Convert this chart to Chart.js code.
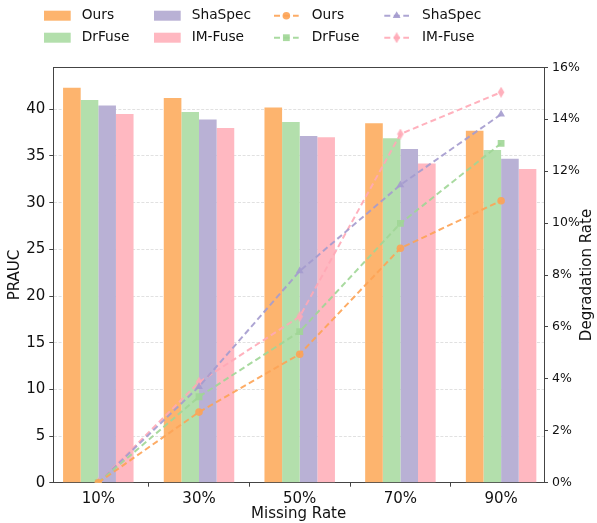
<!DOCTYPE html>
<html><head><meta charset="utf-8">
<script src="https://cdn.jsdelivr.net/npm/chart.js@4/dist/chart.umd.min.js"></script>
<style>html,body{margin:0;padding:0;background:#fff}canvas{display:block}</style>
</head><body>
<canvas id="c" width="597" height="523"></canvas>
<script>
// ---- data ----
const categories = ['10%', '30%', '50%', '70%', '90%'];
const methods = ['Ours', 'DrFuse', 'ShaSpec', 'IM-Fuse'];
const praucOurs    = [42.3, 41.2, 40.2, 38.5, 37.7];
const praucDrFuse  = [41.0, 39.7, 38.65, 36.9, 35.65];
const praucShaSpec = [40.4, 38.9, 37.15, 35.75, 34.7];
const praucIMFuse  = [39.5, 38.0, 37.0, 34.2, 33.6];
const degOurs      = [0, 2.72, 4.95, 9.03, 10.86];
const degDrFuse    = [0, 3.31, 5.82, 9.99, 13.07];
const degShaSpec   = [0, 3.7, 8.15, 11.47, 14.19];
const degIMFuse    = [0, 3.87, 6.4, 13.43, 15.04];
const yTicksLeft  = [0, 5, 10, 15, 20, 25, 30, 35, 40];
const yTicksRight = [0, 2, 4, 6, 8, 10, 12, 14, 16];
const xTitle = 'Missing Rate';
const yTitle = 'PRAUC';
const y1Title = 'Degradation Rate';

// ---- styles ----
const barColors  = ['#FDB46E', '#B3DFAC', '#B9B1D5', '#FFB8C1'];
const lineColors = ['rgba(253,163,85,0.9)', 'rgba(160,214,150,0.9)', 'rgba(164,155,206,0.9)', 'rgba(255,168,182,0.9)'];
const FONT = '"DejaVu Sans", "Liberation Sans", sans-serif';
const TXT = '#111';
const SPINE = '#444';

function thinDiamond(color) {
  const c = document.createElement('canvas');
  c.width = 8; c.height = 11;
  const g = c.getContext('2d');
  g.fillStyle = color;
  g.beginPath(); g.moveTo(4, 0); g.lineTo(7.3, 5.5); g.lineTo(4, 11); g.lineTo(0.7, 5.5); g.closePath(); g.fill();
  return c;
}
const markerStyles = ['circle', 'rect', 'triangle', thinDiamond(lineColors[3])];
const markerRadius = [3.8, 4.8, 4.5, 4];

const praucSeries = [praucOurs, praucDrFuse, praucShaSpec, praucIMFuse];
const degSeries = [degOurs, degDrFuse, degShaSpec, degIMFuse];
const toXY = arr => arr.map((v, i) => ({x: i, y: v}));

const datasets = [];
methods.forEach((m, i) => {
  datasets.push({
    type: 'bar', label: m, data: toXY(praucSeries[i]), yAxisID: 'y', xAxisID: 'x',
    backgroundColor: barColors[i], borderWidth: 0,
    categoryPercentage: 0.7, barPercentage: 1.0, order: 2
  });
});
methods.forEach((m, i) => {
  datasets.push({
    type: 'line', label: m, data: toXY(degSeries[i]), yAxisID: 'y1', xAxisID: 'x',
    borderColor: lineColors[i], backgroundColor: lineColors[i], borderWidth: 2, borderDash: [6, 3.5],
    pointStyle: markerStyles[i], pointRadius: markerRadius[i], pointBorderWidth: 0,
    pointBackgroundColor: lineColors[i], fill: false, tension: 0, order: 1
  });
});

function drawMarker(ctx, style, x, y, color, r) {
  ctx.fillStyle = color;
  if (style === 'circle') { ctx.beginPath(); ctx.arc(x, y, r, 0, Math.PI * 2); ctx.fill(); }
  else if (style === 'rect') { const s = r * Math.SQRT1_2; ctx.fillRect(x - s, y - s, 2 * s, 2 * s); }
  else if (style === 'triangle') {
    ctx.beginPath();
    ctx.moveTo(x, y - r); ctx.lineTo(x + r * 0.866, y + r * 0.5); ctx.lineTo(x - r * 0.866, y + r * 0.5);
    ctx.closePath(); ctx.fill();
  } else if (style && style.width) { ctx.drawImage(style, x - style.width / 2, y - style.height / 2); }
}

const legendPlugin = {
  id: 'customLegend',
  afterDraw(chart) {
    const ctx = chart.ctx;
    ctx.save();
    ctx.font = '13.75px ' + FONT;
    ctx.textBaseline = 'middle';
    ctx.textAlign = 'left';
    const rows = [15.7, 37.7];
    const cols = [44, 154, 274, 384.3];
    const hl = 26.7;
    chart.data.datasets.forEach((ds, k) => {
      const x = cols[Math.floor(k / 2)], y = rows[k % 2];
      if (ds.type === 'line') {
        ctx.save();
        ctx.strokeStyle = ds.borderColor; ctx.lineWidth = 2; ctx.setLineDash([6, 3.5]);
        ctx.beginPath(); ctx.moveTo(x, y); ctx.lineTo(x + hl - 2, y); ctx.stroke();
        ctx.restore();
        drawMarker(ctx, ds.pointStyle, x + hl / 2 - 1, y, ds.borderColor, ds.pointRadius);
      } else {
        ctx.fillStyle = ds.backgroundColor;
        ctx.fillRect(x, y - 5, hl, 10);
      }
      ctx.fillStyle = TXT;
      ctx.fillText(ds.label, x + 37.7, y);
    });
    const a = chart.chartArea;
    // top spine
    ctx.strokeStyle = SPINE; ctx.lineWidth = 1;
    ctx.beginPath(); ctx.moveTo(a.left, Math.round(a.top) + 0.5); ctx.lineTo(a.right, Math.round(a.top) + 0.5); ctx.stroke();
    // right axis title, reading bottom-to-top
    ctx.font = '15px ' + FONT;
    ctx.fillStyle = TXT;
    ctx.textAlign = 'center';
    ctx.translate(587.5, (a.top + a.bottom) / 2);
    ctx.rotate(-Math.PI / 2);
    ctx.fillText(y1Title, 0, 0);
    ctx.restore();
  }
};

Chart.defaults.font.family = FONT;
Chart.defaults.color = TXT;

new Chart(document.getElementById('c'), {
  type: 'bar',
  data: { datasets },
  plugins: [legendPlugin],
  options: {
    responsive: false, animation: false, devicePixelRatio: 1,
    layout: { padding: { top: 67.3, left: 0, right: 0, bottom: 0 } },
    plugins: { legend: { display: false }, tooltip: { enabled: false } },
    scales: {
      x: {
        type: 'linear', position: 'bottom', min: -0.447, max: 4.426, offset: false,
        afterBuildTicks: s => { s.ticks = categories.map((c, i) => ({value: i})); },
        afterFit: s => { s.height = 40.3; },
        ticks: { callback: v => categories[v], font: { size: 15 }, color: TXT, padding: 3, maxRotation: 0, autoSkip: false },
        grid: { drawOnChartArea: false, drawTicks: true, tickLength: 4, tickColor: SPINE, tickWidth: 1 },
        border: { display: true, color: SPINE, width: 1 },
        title: { display: true, text: xTitle, font: { size: 15 }, color: TXT, padding: { top: 0, bottom: 0 } }
      },
      y: {
        type: 'linear', position: 'left', min: 0, max: 44.5,
        afterBuildTicks: s => { s.ticks = yTicksLeft.map(v => ({value: v})); },
        afterFit: s => { s.width = 53.3; },
        ticks: { font: { size: 15 }, color: TXT, padding: 4 },
        grid: {
          drawOnChartArea: true, drawTicks: true, tickLength: 4, tickColor: SPINE, tickWidth: 1, tickBorderDash: [],
          color: c => (c.tick && c.tick.value === 0) ? 'rgba(0,0,0,0)' : 'rgba(0,0,0,0.15)', lineWidth: 0.8
        },
        border: { display: true, color: SPINE, width: 1, dash: [3, 1.6] },
        title: { display: true, text: yTitle, font: { size: 15 }, color: TXT, padding: { top: 6.5, bottom: 0 } }
      },
      y1: {
        type: 'linear', position: 'right', min: 0, max: 16,
        afterBuildTicks: s => { s.ticks = yTicksRight.map(v => ({value: v})); },
        afterFit: s => { s.width = 53; },
        ticks: { font: { size: 12.5 }, color: TXT, padding: 4, callback: v => v + '%' },
        grid: { drawOnChartArea: false, drawTicks: true, tickLength: 4, tickColor: SPINE, tickWidth: 1 },
        border: { display: true, color: SPINE, width: 1 },
        title: { display: false }
      }
    }
  }
});
</script>
</body></html>
